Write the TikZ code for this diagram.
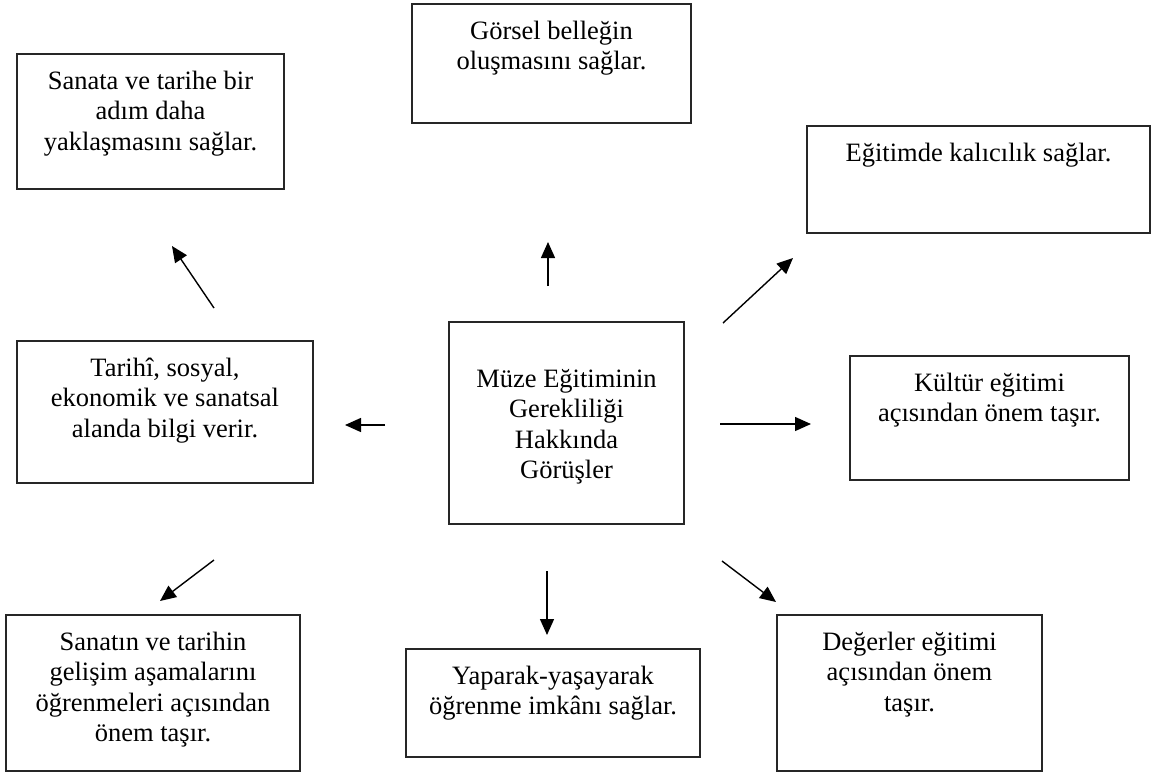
\documentclass[tikz,border=0pt]{standalone}
\usepackage{fontspec}
\setmainfont{Liberation Serif}
\usetikzlibrary{arrows.meta}
\begin{document}
\begin{tikzpicture}[x=1pt,y=-1pt,
  frame/.style={draw=black!85, line width=1.2pt, inner sep=0pt, outer sep=0pt},
  txt/.style={anchor=north, inner sep=0pt, align=center,
    font=\fontsize{26.5}{30.5}\selectfont, yshift=-13.65pt},
  arr/.style={line width=1.4pt, -{Triangle[length=16pt,width=14pt]}}]
\useasboundingbox (0,0) rectangle (1152,772);
% boxes
\node[frame, minimum width=267pt, minimum height=135pt] (tl) at (150.5,121.5) {};
\node[frame, minimum width=279pt, minimum height=119pt] (tc) at (551.5,63.5) {};
\node[frame, minimum width=343pt, minimum height=107pt] (tr) at (978.5,179.5) {};
\node[frame, minimum width=296pt, minimum height=142pt] (lm) at (165,412) {};
\node[frame, minimum width=235pt, minimum height=202pt] (c) at (566.5,423) {};
\node[frame, minimum width=279pt, minimum height=124pt] (rm) at (989.5,418) {};
\node[frame, minimum width=294pt, minimum height=156pt] (bl) at (153,693) {};
\node[frame, minimum width=294pt, minimum height=108pt] (bc) at (553,703) {};
\node[frame, minimum width=265pt, minimum height=156pt] (br) at (909.5,693) {};
% texts
\node[txt] (tlt) at (tl.north) {\strut Sanata ve tarihe bir\\adım daha\\yaklaşmasını sağlar.};
\node[txt] (tct) at (tc.north) {\strut Görsel belleğin\\oluşmasını sağlar.};
\node[txt] (trt) at (tr.north) {\strut Eğitimde kalıcılık sağlar.};
\node[txt] (lmt) at (lm.north) {\strut Tarihî, sosyal,\\ekonomik ve sanatsal\\alanda bilgi verir.};
\node[txt, yshift=-30pt] (ct) at (c.north) {\strut Müze Eğitiminin\\Gerekliliği\\Hakkında\\Görüşler};
\node[txt] (rmt) at (rm.north) {\strut Kültür eğitimi\\açısından önem taşır.};
\node[txt] (blt) at (bl.north) {\strut Sanatın ve tarihin\\gelişim aşamalarını\\öğrenmeleri açısından\\önem taşır.};
\node[txt] (bct) at (bc.north) {\strut Yaparak-yaşayarak\\öğrenme imkânı sağlar.};
\node[txt] (brt) at (br.north) {\strut Değerler eğitimi\\açısından önem\\taşır.};
% arrow end points
\coordinate (a1s) at (214,308); \coordinate (a1e) at (172,246);
\coordinate (a2s) at (548,286); \coordinate (a2e) at (548,242);
\coordinate (a3s) at (723,323); \coordinate (a3e) at (793,258);
\coordinate (a4s) at (385,425); \coordinate (a4e) at (345,425);
\coordinate (a5s) at (720,424); \coordinate (a5e) at (811,424);
\coordinate (a6s) at (214,560); \coordinate (a6e) at (160,601);
\coordinate (a7s) at (547,571); \coordinate (a7e) at (547,635);
\coordinate (a8s) at (722,561); \coordinate (a8e) at (776,602);
\draw[arr] (a1s) -- (a1e);
\draw[arr] (a2s) -- (a2e);
\draw[arr] (a3s) -- (a3e);
\draw[arr] (a4s) -- (a4e);
\draw[arr] (a5s) -- (a5e);
\draw[arr] (a6s) -- (a6e);
\draw[arr] (a7s) -- (a7e);
\draw[arr] (a8s) -- (a8e);
\end{tikzpicture}
\end{document}
